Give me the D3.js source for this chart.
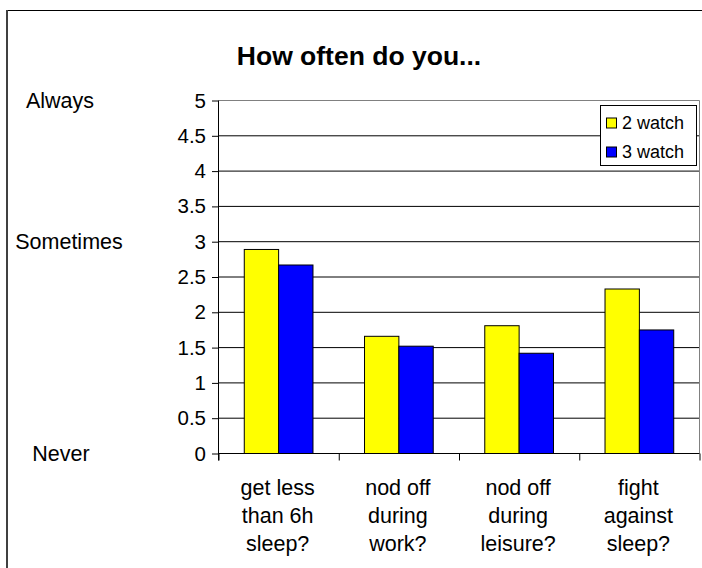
<!DOCTYPE html>
<html>
<head>
<meta charset="utf-8">
<script src="https://cdn.jsdelivr.net/npm/d3@7"></script>
<style>
html,body{margin:0;padding:0;background:#fff;}
svg{display:block;font-family:"Liberation Sans",Arial,sans-serif;}
</style>
</head>
<body>
<svg id="chart" width="702" height="568"></svg>
<script>
const categories = [
  ["get less","than 6h","sleep?"],
  ["nod off","during","work?"],
  ["nod off","during","leisure?"],
  ["fight","against","sleep?"]
];
const seriesNames = ["2 watch","3 watch"];
const seriesColors = ["#FFFF00","#0000FF"];
const watch2 = [2.89, 1.66, 1.81, 2.33];
const watch3 = [2.67, 1.52, 1.42, 1.75];
const yTicks = [0,0.5,1,1.5,2,2.5,3,3.5,4,4.5,5];
const sideLabels = [
  {text:"Always", value:5, x:60},
  {text:"Sometimes", value:3, x:69},
  {text:"Never", value:0, x:61}
];
const chartTitle = "How often do you...";

(function(){
const svg = d3.select("#chart");
const pLeft = 218.5, pRight = 699.5, pTop = 100.5, pBottom = 453.5;

const x0 = d3.scaleBand().domain(d3.range(categories.length)).range([pLeft, pRight]).paddingInner(0).paddingOuter(0);
const x1 = d3.scaleBand().domain(d3.range(seriesNames.length)).range([0, x0.bandwidth()]).paddingInner(0).paddingOuter(0.75);
const y = d3.scaleLinear().domain([0,5]).range([pBottom, pTop]);

// outer chart border
svg.append("line").attr("x1",7).attr("x2",702).attr("y1",10.5).attr("y2",10.5).attr("stroke","#000").attr("stroke-width",1.2);
svg.append("line").attr("x1",7).attr("x2",7).attr("y1",10).attr("y2",568).attr("stroke","#404040").attr("stroke-width",2);

// title
svg.append("text").attr("x",359).attr("y",65).attr("text-anchor","middle")
  .attr("font-size",26.5).attr("font-weight","bold").attr("fill","#000").text(chartTitle);

// gridlines
svg.append("g").selectAll("line").data(yTicks.filter(d=>d>0)).join("line")
  .attr("x1",pLeft).attr("x2",pRight)
  .attr("y1",d=>y(d)).attr("y2",d=>y(d))
  .attr("stroke",d=>d===5?"#808080":"#000").attr("stroke-width",1);

// plot right border
svg.append("line").attr("x1",pRight).attr("x2",pRight).attr("y1",pTop).attr("y2",pBottom).attr("stroke","#808080");

// bars
const data = categories.map((c,i)=>[watch2[i], watch3[i]]);
const groups = svg.append("g").selectAll("g").data(data).join("g")
  .attr("transform",(d,i)=>`translate(${x0(i)},0)`);
groups.selectAll("rect").data(d=>d.map((v,j)=>({v,j}))).join("rect")
  .attr("x",d=>x1(d.j)).attr("width",x1.bandwidth())
  .attr("y",d=>y(d.v)).attr("height",d=>y(0)-y(d.v))
  .attr("fill",d=>seriesColors[d.j]).attr("stroke","#000").attr("stroke-width",1);

// y axis
const yAxis = d3.axisLeft(y).tickValues(yTicks).tickSize(6.5).tickPadding(6)
  .tickFormat(d=>String(d));
const yg = svg.append("g").attr("transform",`translate(${pLeft},0)`).call(yAxis);
yg.select(".domain").attr("stroke","#000").attr("d",`M0,${pTop}V${pBottom+7}`);
yg.selectAll(".tick line").attr("stroke","#000");
yg.selectAll(".tick text").attr("font-size",20.5).attr("fill","#000")
  .attr("font-family","'Liberation Sans',Arial,sans-serif");

// x axis
const xAxis = d3.axisBottom(d3.scaleLinear().domain([0,categories.length]).range([pLeft,pRight]))
  .tickValues(d3.range(categories.length+1)).tickSize(7).tickFormat("");
const xg = svg.append("g").attr("transform",`translate(0,${pBottom})`).call(xAxis);
xg.select(".domain").attr("stroke","#000").attr("d",`M${pLeft},0H${pRight}`);
xg.selectAll(".tick line").attr("stroke","#000");

// category labels
const lab = svg.append("g").selectAll("text").data(categories).join("text")
  .attr("text-anchor","middle").attr("font-size",21.5).attr("fill","#000")
  .attr("x",(d,i)=>x0(i)+x0.bandwidth()/2 - 1).attr("y",495);
lab.selectAll("tspan").data(d=>d).join("tspan")
  .attr("x",function(){return this.parentNode.getAttribute("x");})
  .attr("dy",(d,i)=>i===0?0:28).text(d=>d);

// side labels
svg.append("g").selectAll("text").data(sideLabels).join("text")
  .attr("x",d=>d.x).attr("y",d=>y(d.value)).attr("dy","0.35em")
  .attr("text-anchor","middle").attr("font-size",21.5).attr("fill","#000").text(d=>d.text);

// legend
const lg = svg.append("g").attr("transform","translate(600,105)");
lg.append("rect").attr("x",0.5).attr("y",0.5).attr("width",96).attr("height",60)
  .attr("fill","#fff").attr("stroke","#000");
const items = lg.selectAll("g.item").data(seriesNames).join("g").attr("class","item")
  .attr("transform",(d,i)=>`translate(0,${17.5+i*29})`);
items.append("rect").attr("x",6.5).attr("y",-4.5).attr("width",10).attr("height",10)
  .attr("fill",(d,i)=>seriesColors[i]).attr("stroke","#000");
items.append("text").attr("x",22).attr("y",0).attr("dy","0.35em").attr("font-size",18).attr("fill","#000").text(d=>d);
})();
</script>
</body>
</html>
